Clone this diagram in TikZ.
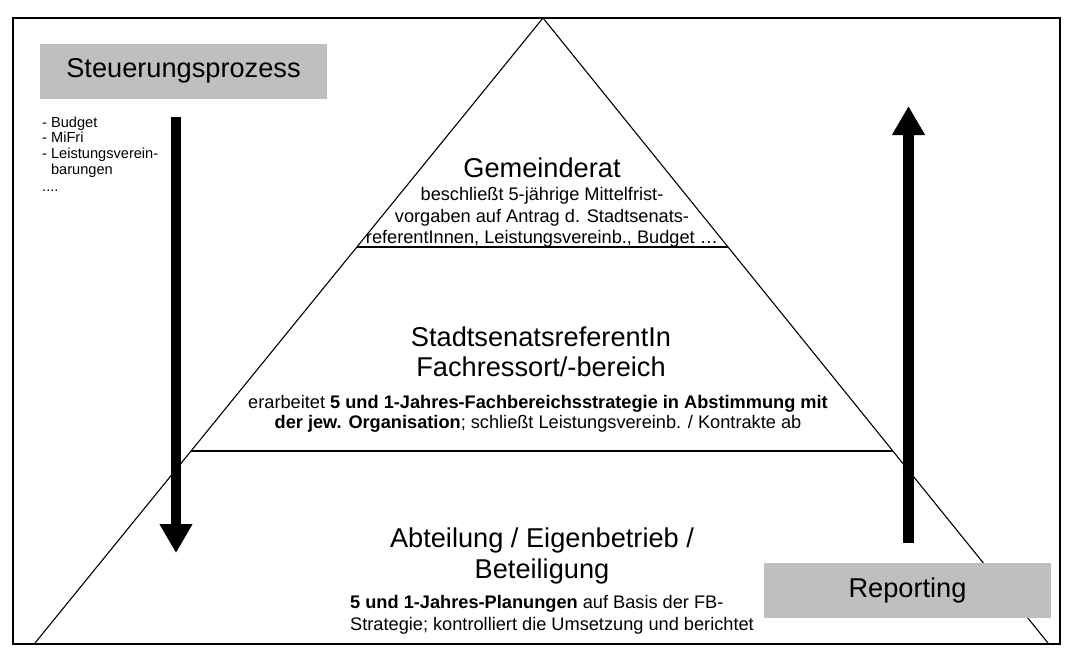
\documentclass[tikz,border=0pt]{standalone}
\usepackage{fontspec}
\setmainfont{Liberation Sans}
\usetikzlibrary{arrows.meta}
\usetikzlibrary{calc}
\definecolor{boxgray}{RGB}{191,191,191}
\newcommand{\bigfont}{\fontsize{27.2}{31}\selectfont}
\newcommand{\midfont}{\fontsize{18.2}{21}\selectfont}
\newcommand{\listfont}{\fontsize{14.6}{16}\selectfont}
\tikzstyle{head}=[font=\bigfont,inner sep=0pt,anchor=base]
\tikzstyle{txt}=[font=\midfont,inner sep=0pt,anchor=base]
\tikzstyle{txtleft}=[font=\midfont,inner sep=0pt,anchor=base west]
\tikzstyle{lst}=[font=\listfont,inner sep=0pt,anchor=base west]
\tikzstyle{graybox}=[fill=boxgray,font=\bigfont,minimum width=287pt,minimum height=55pt,inner sep=0pt]
\tikzstyle{bigarr}=[-{Triangle[length=29pt,width=31pt]},line width=10.5pt]
\tikzstyle{side}=[draw=black,line width=1.1pt]
\tikzstyle{tierline}=[draw=black,line width=1.8pt]

\begin{document}
\begin{tikzpicture}[x=1pt,y=-1pt]
  \useasboundingbox (0,0) rectangle (1076,657);
  % frame
  \draw[line width=2.5pt] (13,18) rectangle (1060,644);
  % pyramid
  \coordinate (apex) at (543,18);
  \coordinate (baseL) at (35,643);
  \coordinate (baseR) at (1048,643);
  \draw[side] (baseL) -- (apex) -- (baseR);
  \coordinate (t1L) at ($(apex)!0.3664!(baseL)$);
  \coordinate (t1R) at ($(apex)!0.3664!(baseR)$);
  \coordinate (t2L) at ($(apex)!0.6928!(baseL)$);
  \coordinate (t2R) at ($(apex)!0.6928!(baseR)$);
  \draw[tierline] (t1L) -- (t1R);
  \draw[tierline] (t2L) -- (t2R);
  % boxes
  \node[graybox] (steuer) at (183.5,71) {Steuerungsprozess};
  \node[graybox] (report) at (907.5,590.5) {Reporting};
  % arrows
  \coordinate (downS) at (176,117);
  \coordinate (downE) at (176,553);
  \draw[bigarr] (downS) -- (downE);
  \coordinate (upS) at (908.5,543);
  \coordinate (upE) at (908.5,106);
  \draw[bigarr] (upS) -- (upE);
  % list
  \node[lst] (list1) at (42,127) {- Budget};
  \node[lst] (list2) at (42,142) {- MiFri};
  \node[lst] (list3) at (42,158) {- Leistungsverein-};
  \node[lst] (list4) at (42,174) {\hphantom{- }barungen};
  \node[lst] (list5) at (42,191) {....};
  % top tier
  \node[head] (gr) at (542,177) {Gemeinderat};
  \node[txt] (gr1) at (542,200) {beschließt 5-jährige Mittelfrist-};
  \node[txt] (gr2) at (542,222) {vorgaben auf Antrag d. Stadtsenats-};
  \node[txt] (gr3) at (542,243) {referentInnen, Leistungsvereinb., Budget …};
  % middle tier
  \node[head] (ssr) at (541,346) {StadtsenatsreferentIn};
  \node[head] (fach) at (541,376) {Fachressort/-bereich};
  \node[txt] (ssr1) at (538,408) {erarbeitet \textbf{5 und 1-Jahres-Fachbereichsstrategie in Abstimmung mit}};
  \node[txt] (ssr2) at (538,428) {\textbf{der jew. Organisation}; schließt Leistungsvereinb. / Kontrakte ab};
  % bottom tier
  \node[head] (abt) at (542,547) {Abteilung / Eigenbetrieb /};
  \node[head] (bet) at (542,578) {Beteiligung};
  \node[txtleft] (abt1) at (350,608) {\textbf{5 und 1-Jahres-Planungen} auf Basis der FB-};
  \node[txtleft] (abt2) at (350,630) {Strategie; kontrolliert die Umsetzung und berichtet};
\end{tikzpicture}
\end{document}
